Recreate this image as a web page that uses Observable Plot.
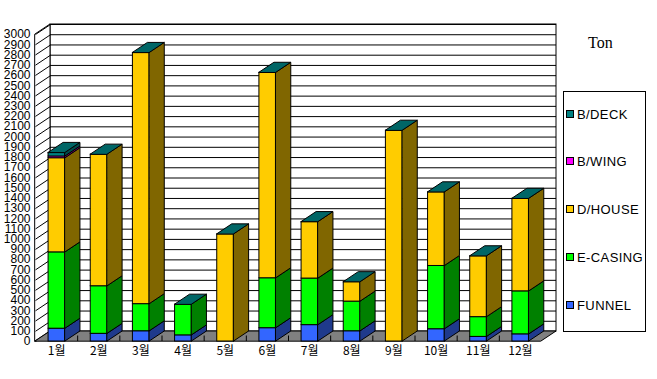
<!DOCTYPE html>
<html>
<head>
<meta charset="utf-8">
<script src="https://cdn.jsdelivr.net/npm/d3@7"></script>
<script src="https://cdn.jsdelivr.net/npm/@observablehq/plot@0.6"></script>
<style>
  html, body { margin: 0; padding: 0; background: white; }
  #wrap { position: relative; width: 657px; height: 379px; }
  #unit { position: absolute; left: 588px; top: 34px; font-family: "Liberation Serif", serif; font-size: 16px; color: #000; }
  #legend { position: absolute; left: 563px; top: 91px; width: 83px; height: 241px; border: 1px solid #000; background: #fff; box-sizing: border-box; }
  .li { position: absolute; left: 2px; font-family: "Liberation Sans", Arial, sans-serif; font-size: 13px; letter-spacing: 0.4px; color: #000; line-height: 14px; white-space: nowrap; }
  .sw { display: inline-block; width: 6px; height: 6px; border: 1px solid #000; margin-right: 3px; vertical-align: 1px; }
</style>
</head>
<body>
<div id="wrap">
  <div id="chart"></div>
  <div id="unit">Ton</div>
  <div id="legend"></div>
</div>
<script>
// ---- data ----
const months = ["1월","2월","3월","4월","5월","6월","7월","8월","9월","10월","11월","12월"];
const funnel  = [125, 75, 100, 60, 0, 130, 160, 100, 0, 120, 45, 70];
const ecasing = [746, 465, 265, 300, 0, 488, 455, 290, 0, 618, 193, 420];
const dhouse  = [920, 1286, 2455, 0, 1047, 2008, 552, 190, 2060, 720, 595, 905];
const bwing   = [17, 0, 0, 0, 0, 0, 0, 0, 0, 0, 0, 0];
const bdeck   = [35, 0, 0, 0, 0, 0, 0, 0, 0, 0, 0, 0];
const seriesNames = ["FUNNEL", "E-CASING", "D/HOUSE", "B/WING", "B/DECK"];
const yTicks = d3.range(0, 3001, 100);

// ---- styles ----
const frontColors = {"FUNNEL": "#3366ff", "E-CASING": "#00ff00", "D/HOUSE": "#ffcc00", "B/WING": "#ff00ff", "B/DECK": "#008080"};
const sideColors  = {"FUNNEL": "#1f3a8c", "E-CASING": "#008000", "D/HOUSE": "#806600", "B/WING": "#800080", "B/DECK": "#004c4c"};
const capColor = "#006666";

const W = 657, H = 379;
const mL = 35, mR = 116, mT = 34, mB = 38;
const XMIN = 0.5, XMAX = 12.5, YMAX = 3000;
const depthPx = {x: 15, y: 10};
const ddx = depthPx.x / ((W - mL - mR) / (XMAX - XMIN));
const ddy = depthPx.y / ((H - mT - mB) / YMAX);
const barLeft = -0.19, barRight = 0.21;

const values = [funnel, ecasing, dhouse, bwing, bdeck];

// stacked segments
const segs = [];
const caps = [];
months.forEach((m, i) => {
  let acc = 0;
  values.forEach((arr, s) => {
    const v = arr[i];
    if (v > 0) {
      segs.push({i: i + 1, series: seriesNames[s], lo: acc, hi: acc + v});
    }
    acc += v;
  });
  caps.push({i: i + 1, total: acc});
});

const sidePts = segs.flatMap((d, k) => [
  {id: k, x: d.i + barRight, lo: d.lo, hi: d.hi, fill: sideColors[d.series]},
  {id: k, x: d.i + barRight + ddx, lo: d.lo + ddy, hi: d.hi + ddy, fill: sideColors[d.series]}
]);
const capPts = caps.flatMap(d => [
  {id: d.i, y: d.total, a: d.i + barLeft, b: d.i + barRight},
  {id: d.i, y: d.total + ddy, a: d.i + barLeft + ddx, b: d.i + barRight + ddx}
]);
const wallPts = [
  {x: XMIN, lo: 0, hi: YMAX},
  {x: XMIN + ddx, lo: ddy, hi: YMAX + ddy}
];
const floorPts = [
  {y: 0, a: XMIN, b: XMAX},
  {y: ddy, a: XMIN + ddx, b: XMAX + ddx}
];

const chart = Plot.plot({
  width: W, height: H,
  marginLeft: mL, marginRight: mR, marginTop: mT, marginBottom: mB,
  x: {type: "linear", domain: [XMIN, XMAX], axis: null},
  y: {domain: [0, YMAX], axis: null},
  color: {type: "identity"},
  style: {background: "white", color: "black", overflow: "visible"},
  marks: [
    // back wall
    Plot.rect([0], {x1: XMIN + ddx, x2: XMAX + ddx, y1: ddy, y2: YMAX + ddy, fill: "white", stroke: "black"}),
    Plot.ruleY(yTicks, {y: d => d + ddy, x1: XMIN + ddx, x2: XMAX + ddx, stroke: "black", strokeWidth: 1}),
    // left wall
    Plot.areaY(wallPts, {x: "x", y1: "lo", y2: "hi", fill: "white", stroke: "black"}),
    Plot.link(yTicks, {x1: XMIN, y1: d => d, x2: XMIN + ddx, y2: d => d + ddy, stroke: "black"}),
    // floor
    Plot.areaX(floorPts, {y: "y", x1: "a", x2: "b", fill: "#808080", stroke: "black"}),
    Plot.ruleX(d3.range(1.5, 12.5, 1), {y1: 0, y2: ddy * 0.55, stroke: "black"}),
    // bars: front faces
    Plot.rect(segs, {x1: d => d.i + barLeft, x2: d => d.i + barRight, y1: "lo", y2: "hi",
      fill: d => frontColors[d.series], stroke: "black"}),
    // side faces
    Plot.areaY(sidePts, {x: "x", y1: "lo", y2: "hi", z: "id", fill: "fill", stroke: "black"}),
    // top caps
    Plot.areaX(capPts, {y: "y", x1: "a", x2: "b", z: "id", fill: capColor, stroke: "black"}),
    // axes
    Plot.axisY(yTicks, {tickSize: 0, tickPadding: 5, label: null, fontSize: 12, tickFormat: d => String(d),
      fontFamily: "'Liberation Sans Narrow', 'Liberation Sans', sans-serif"}),
    Plot.axisX(d3.range(1, 13), {tickSize: 0, tickPadding: 5, label: null, fontSize: 12,
      tickFormat: d => months[d - 1], fontFamily: "'Noto Sans CJK KR', sans-serif"})
  ]
});
document.getElementById("chart").appendChild(chart);

// legend (top to bottom: reverse stacking order)
const legend = document.getElementById("legend");
const legendOrder = seriesNames.slice().reverse();
const legendTops = [16, 63, 111, 159, 207];
legendOrder.forEach((name, k) => {
  const div = document.createElement("div");
  div.className = "li";
  div.style.top = legendTops[k] + "px";
  div.innerHTML = `<span class="sw" style="background:${frontColors[name]}"></span>${name}`;
  legend.appendChild(div);
});
</script>
</body>
</html>
